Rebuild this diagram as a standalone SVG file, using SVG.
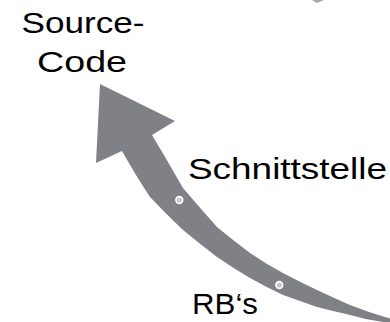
<svg xmlns="http://www.w3.org/2000/svg" width="390" height="322" viewBox="0 0 390 322">
<style>
.lbl{font-family:"Liberation Sans",Arial,Helvetica,sans-serif;font-size:30px;fill:#000}
.arrow{fill:#808186}
.dot{fill:#c8c8ca;stroke:#fff;stroke-width:1.6}
</style>
<rect width="390" height="322" fill="#fff"/>
<g id="connectors">
<path class="arrow" d="M100,84 L175,121 L152,135 Q167,160 183,188 Q200,208 217,227 Q234,241 250,253 Q266,264 283,273 Q300,282 317,290 Q334,298 350,305 Q370,313 392,319 L392,323 Q370,321 350,315 Q333,311 317,307 Q300,301 283,295 Q266,287 250,278 Q233,268 217,257 Q200,244 183,230 Q166,214 150,197 Q136,176 122,151 L96,163 Z"/>
<circle class="dot" cx="179.3" cy="200" r="3.4"/>
<circle class="dot" cx="279.3" cy="285" r="3.4"/>
<path d="M312,0 L324,0 L317,3 Z" fill="#a8a8aa"/>
</g>
<g id="source-code">
<text class="lbl" x="21.5" y="33.3" textLength="123" lengthAdjust="spacingAndGlyphs">Source-</text>
<text class="lbl" x="37" y="72" textLength="90" lengthAdjust="spacingAndGlyphs">Code</text>
</g>
<g id="schnittstelle">
<text class="lbl" x="188" y="179" textLength="199" lengthAdjust="spacingAndGlyphs">Schnittstelle</text>
</g>
<g id="rbs">
<text class="lbl" x="192" y="314.3" textLength="66" lengthAdjust="spacingAndGlyphs">RB‘s</text>
</g>
</svg>
